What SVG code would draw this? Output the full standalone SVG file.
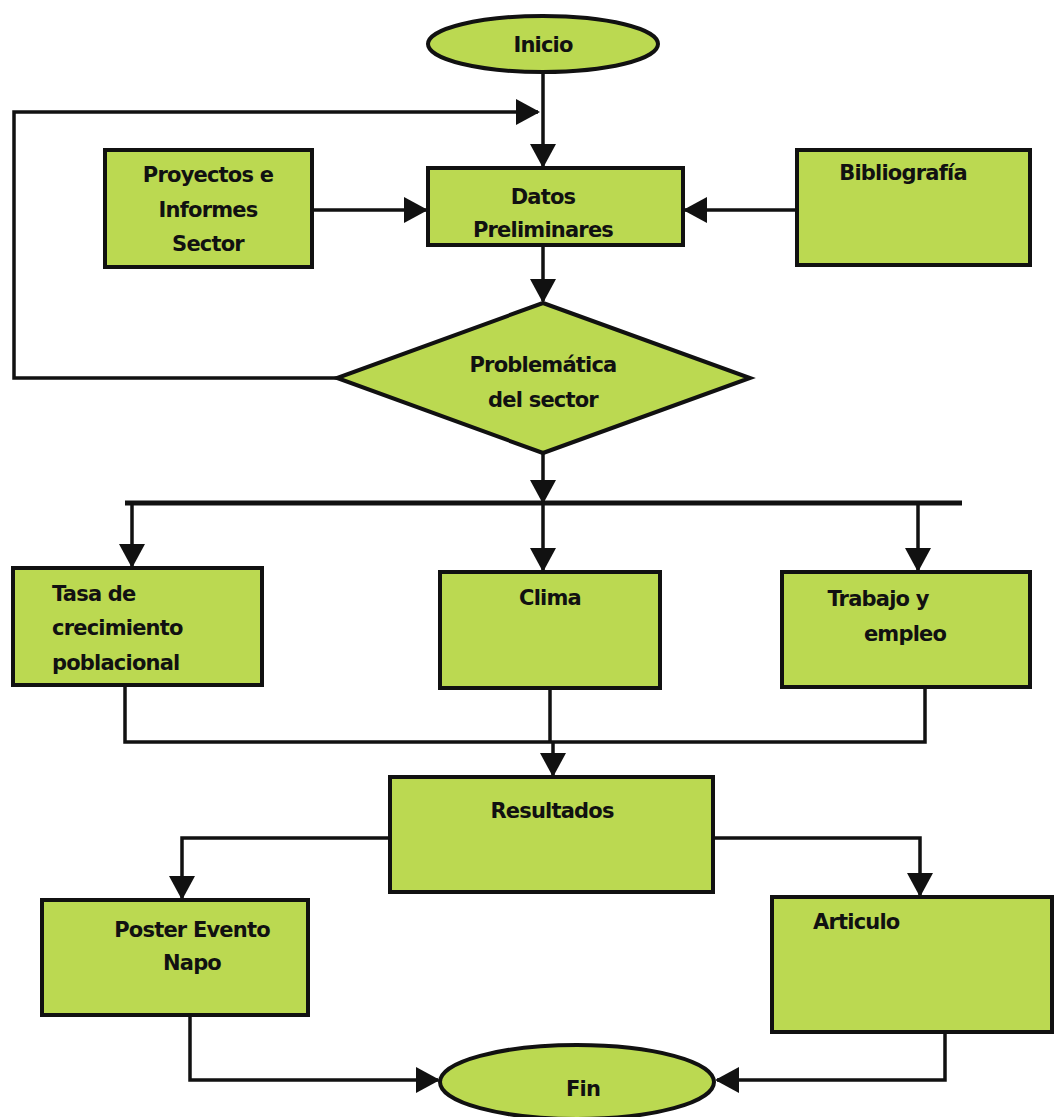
<svg xmlns="http://www.w3.org/2000/svg" width="1060" height="1117" viewBox="0 0 1060 1117">
<style>
.n{fill:#bbd951;stroke:#111;stroke-width:4}
.t{font-family:"DejaVu Sans",sans-serif;font-weight:bold;font-size:21px;fill:#111;letter-spacing:-0.8px}
.c{fill:none;stroke:#111;stroke-width:3.5}
.b{fill:none;stroke:#111;stroke-width:5}
</style>
<defs>
<marker id="a" viewBox="0 0 24 26" refX="22" refY="13" markerWidth="24" markerHeight="26" markerUnits="userSpaceOnUse" orient="auto">
<path d="M0,0 L24,13 L0,26 Z" fill="#111"/>
</marker>
</defs>
<rect width="1060" height="1117" fill="#fff"/>
<g id="connectors">
<path class="c" d="M543,72 V166" marker-end="url(#a)"/>
<path class="c" d="M337,378 H14 V112 H538" marker-end="url(#a)"/>
<path class="c" d="M312,210 H426" marker-end="url(#a)"/>
<path class="c" d="M797,210 H685" marker-end="url(#a)"/>
<path class="c" d="M543,245 V301" marker-end="url(#a)"/>
<path class="c" d="M543,453 V502" marker-end="url(#a)"/>
<path class="b" d="M125,503 H962"/>
<path class="c" d="M132,503 V566" marker-end="url(#a)"/>
<path class="c" d="M543,503 V570" marker-end="url(#a)"/>
<path class="c" d="M918,503 V570" marker-end="url(#a)"/>
<path class="c" d="M125,685 V742 H925 V687"/>
<path class="c" d="M550,688 V742"/>
<path class="c" d="M553,742 V775" marker-end="url(#a)"/>
<path class="c" d="M390,838 H182 V898" marker-end="url(#a)"/>
<path class="c" d="M713,838 H920 V895" marker-end="url(#a)"/>
<path class="c" d="M190,1015 V1080 H438" marker-end="url(#a)"/>
<path class="c" d="M945,1032 V1080 H717" marker-end="url(#a)"/>
</g>
<g id="inicio">
<ellipse class="n" cx="543" cy="44" rx="115" ry="28"/>
<text class="t" x="543" y="52" text-anchor="middle">Inicio</text>
</g>
<g id="datos">
<rect class="n" x="428" y="168" width="255" height="77"/>
<text class="t" x="543" y="204" text-anchor="middle">Datos</text>
<text class="t" x="543" y="237" text-anchor="middle">Preliminares</text>
</g>
<g id="proyectos">
<rect class="n" x="105" y="150" width="207" height="117"/>
<text class="t" x="208" y="182" text-anchor="middle">Proyectos e</text>
<text class="t" x="208" y="217" text-anchor="middle">Informes</text>
<text class="t" x="208" y="251" text-anchor="middle">Sector</text>
</g>
<g id="bibliografia">
<rect class="n" x="797" y="150" width="233" height="115"/>
<text class="t" x="903" y="180" text-anchor="middle">Bibliografía</text>
</g>
<g id="problematica">
<polygon class="n" points="543,303 750,378 543,453 337,378"/>
<text class="t" x="543" y="372" text-anchor="middle">Problemática</text>
<text class="t" x="543" y="407" text-anchor="middle">del sector</text>
</g>
<g id="tasa">
<rect class="n" x="13" y="568" width="249" height="117"/>
<text class="t" x="52" y="601">Tasa de</text>
<text class="t" x="52" y="635">crecimiento</text>
<text class="t" x="52" y="670">poblacional</text>
</g>
<g id="clima">
<rect class="n" x="440" y="572" width="220" height="116"/>
<text class="t" x="550" y="605" text-anchor="middle">Clima</text>
</g>
<g id="trabajo">
<rect class="n" x="782" y="572" width="248" height="115"/>
<text class="t" x="878" y="606" text-anchor="middle">Trabajo y</text>
<text class="t" x="905" y="641" text-anchor="middle">empleo</text>
</g>
<g id="resultados">
<rect class="n" x="390" y="777" width="323" height="115"/>
<text class="t" x="552" y="818" text-anchor="middle">Resultados</text>
</g>
<g id="poster">
<rect class="n" x="42" y="900" width="266" height="115"/>
<text class="t" x="192" y="937" text-anchor="middle">Poster Evento</text>
<text class="t" x="192" y="970" text-anchor="middle">Napo</text>
</g>
<g id="articulo">
<rect class="n" x="772" y="897" width="280" height="135"/>
<text class="t" x="813" y="929">Articulo</text>
</g>
<g id="fin">
<ellipse class="n" cx="577" cy="1082" rx="137" ry="37"/>
<text class="t" x="583" y="1096" text-anchor="middle">Fin</text>
</g>
</svg>
